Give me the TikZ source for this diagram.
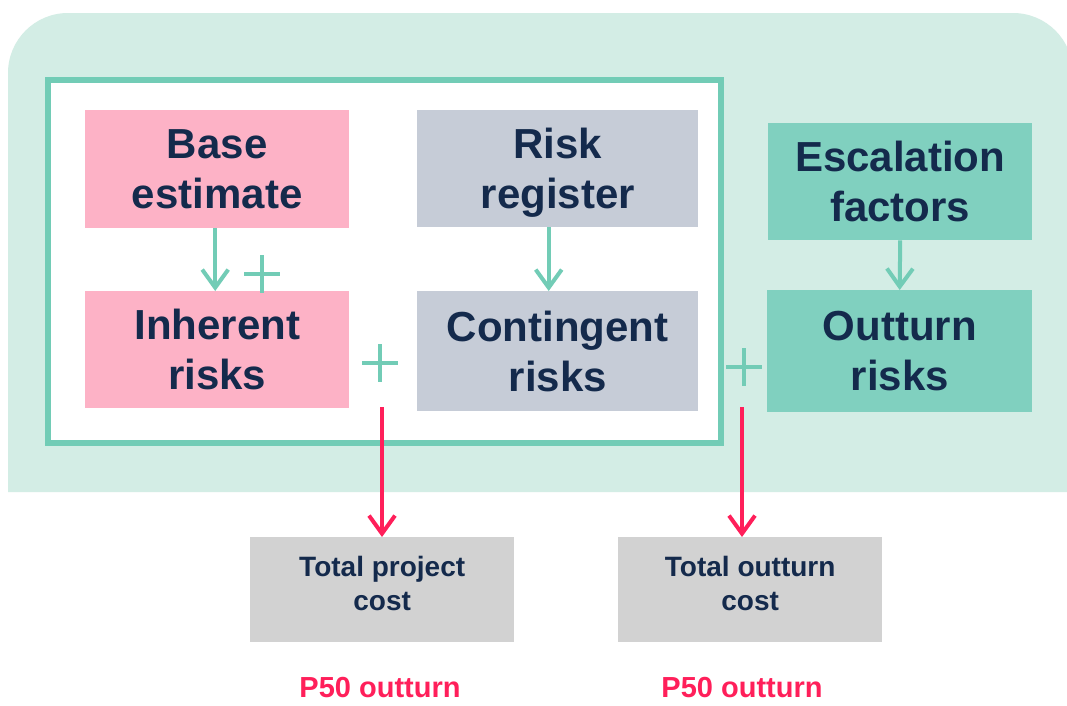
\documentclass[tikz,border=0pt]{standalone}
\usepackage{fontspec}
\setmainfont{Liberation Sans}
\usetikzlibrary{arrows.meta,calc}
\definecolor{mintbg}{HTML}{D3EDE5}
\definecolor{tealline}{HTML}{72CCB6}
\definecolor{pinkbox}{HTML}{FDB2C6}
\definecolor{graybox}{HTML}{C6CCD7}
\definecolor{tealbox}{HTML}{80D0BF}
\definecolor{navytext}{HTML}{142A4C}
\definecolor{costbox}{HTML}{D2D2D2}
\definecolor{redline}{HTML}{FF1F5A}
\tikzset{
  bigbox/.style={anchor=north west, inner sep=0pt, align=center, text=navytext,
    font=\fontsize{42}{50}\selectfont\bfseries},
  costnode/.style={anchor=north west, inner sep=0pt,
    fill=costbox, minimum width=264pt, minimum height=105pt},
  costtext/.style={inner sep=0pt, align=center, text=navytext,
    font=\fontsize{28}{34}\selectfont\bfseries},
  tealarrow/.style={draw=tealline, line width=4pt,
    -{Straight Barb[length=18pt,width=26pt,line width=4pt]}},
  redarrow/.style={draw=redline, line width=4pt,
    -{Straight Barb[length=18pt,width=26pt,line width=4pt]}},
  plusline/.style={draw=tealline, line width=3.5pt},
  ptext/.style={anchor=base, inner sep=0pt, text=redline, font=\fontsize{29}{34}\selectfont\bfseries},
}
\begin{document}
\begin{tikzpicture}[x=1pt,y=-1pt]
\useasboundingbox (0,0) rectangle (1067,705);
\fill[white] (0,0) rectangle (1067,705);
% background mint region
\fill[mintbg] (8,492) -- (8,73) arc[start angle=180,end angle=270,radius=60]
  -- (1013,13) arc[start angle=270,end angle=360,radius=60] -- (1073,492) -- cycle;
% inner white frame
\node[draw=tealline, line width=5.5pt, fill=white, anchor=north west, inner sep=0pt,
  minimum width=673pt, minimum height=363pt] (frame) at (45,77) {};
% boxes
\node[bigbox, fill=pinkbox, minimum width=264pt, minimum height=118pt] (base) at (85,110) {Base\\estimate};
\node[bigbox, fill=graybox, minimum width=281pt, minimum height=117pt] (risk) at (417,110) {};
\node[bigbox] (risktext) at ($(risk.center)+(0,4)$) [anchor=center] {Risk\\register};
\node[bigbox, fill=pinkbox, minimum width=264pt, minimum height=117pt] (inh) at (85,291) {Inherent\\risks};
\node[bigbox, fill=graybox, minimum width=281pt, minimum height=120pt] (cont) at (417,291) {Contingent\\risks};
\node[bigbox, fill=tealbox, minimum width=264pt, minimum height=117pt] (esc) at (768,123) {Escalation\\factors};
\node[bigbox, fill=tealbox, minimum width=265pt, minimum height=122pt] (out) at (767,290) {Outturn\\risks};
\node[costnode] (tpc) at (250,537) {};
\node[costtext] (tpctext) at ($(tpc.center)+(0,-6)$) {Total project\\cost};
\node[costnode] (toc) at (618,537) {};
\node[costtext] (toctext) at ($(toc.center)+(0,-6)$) {Total outturn\\cost};
% teal arrows
\draw[tealarrow] ([xshift=-2pt]base.south) -- ([xshift=-2pt]base.south |- inh.north);
\draw[tealarrow] ([xshift=-9pt]risk.south) -- ([xshift=-9pt]risk.south |- cont.north);
\draw[tealarrow] (esc.south) -- (out.north);
% plus signs
\coordinate (p1) at (262,274);
\coordinate (p2) at (380,363);
\coordinate (p3) at (744,367);
\foreach \p in {p1,p2,p3}{
  \draw[plusline] ($(\p)+(-18,0)$) -- ($(\p)+(18,0)$);
  \draw[plusline] ($(\p)+(0,-19)$) -- ($(\p)+(0,19)$);
}
% red arrows
\coordinate (r1) at (382,407);
\coordinate (r2) at (742,407);
\draw[redarrow] (r1) -- (r1 |- tpc.north);
\draw[redarrow] (r2) -- (r2 |- toc.north);
% P50 labels
\node[ptext] (l1) at (380,697) {P50 outturn};
\node[ptext] (l2) at (742,697) {P50 outturn};
\end{tikzpicture}
\end{document}
